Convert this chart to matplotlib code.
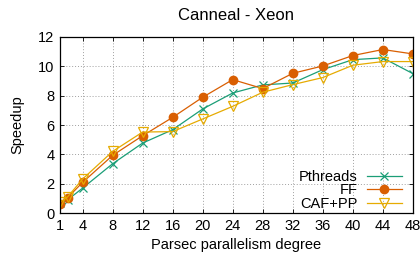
import matplotlib
matplotlib.use('Agg')
import matplotlib.pyplot as plt

plt.rcParams['font.family'] = ['Liberation Sans', 'DejaVu Sans']

degree = [1, 2, 4, 8, 12, 16, 20, 24, 28, 32, 36, 40, 44, 48]
pthreads = [0.68, 0.9, 1.7, 3.36, 4.77, 5.68, 7.09, 8.18, 8.73, 8.86, 9.77, 10.45, 10.57, 9.5]
ff = [0.65, 1.05, 2.09, 3.93, 5.27, 6.52, 7.89, 9.09, 8.48, 9.52, 10.02, 10.73, 11.14, 10.84]
cafpp = [0.75, 1.1, 2.32, 4.2, 5.52, 5.55, 6.41, 7.27, 8.23, 8.75, 9.23, 10.07, 10.32, 10.32]
xticks = [1, 4, 8, 12, 16, 20, 24, 28, 32, 36, 40, 44, 48]
yticks = [0, 2, 4, 6, 8, 10, 12]

fig = plt.figure(figsize=(4.2, 2.58), dpi=100)
ax = fig.add_axes([0.143, 0.174, 0.840, 0.683])

ax.plot(degree, pthreads, color='#1b9e77', lw=0.9, marker='x', ms=6, mew=0.9, label='Pthreads')
ax.plot(degree, ff, color='#d95f02', lw=0.9, marker='o', ms=6, label='FF')
ax.plot(degree, cafpp, color='#e6ab02', lw=0.9, marker='v', ms=6.5, mfc='none', mew=0.9, label='CAF+PP')

ax.set_xlim(1, 48)
ax.set_ylim(0, 12)
ax.set_xticks(xticks)
ax.set_yticks(yticks)
ax.tick_params(direction='in', top=True, right=True, labelsize=10.5, length=3, width=0.6, pad=4)
ax.grid(True, color='#a0a0a0', linestyle=(0, (1, 2)), lw=0.7)
for s in ax.spines.values():
    s.set_linewidth(0.9)

ax.set_title('Canneal - Xeon', fontsize=12, pad=12)
ax.set_xlabel('Parsec parallelism degree', fontsize=10.5, labelpad=4)
ax.set_ylabel('Speedup', fontsize=10.5, labelpad=10)

ax.legend(loc='lower right', bbox_to_anchor=(0.985, -0.02), frameon=False,
          markerfirst=False, fontsize=10.5, handlelength=2.4, handletextpad=0.6,
          labelspacing=-0.03, borderaxespad=0.0)

fig.savefig('out.png', dpi=100)
